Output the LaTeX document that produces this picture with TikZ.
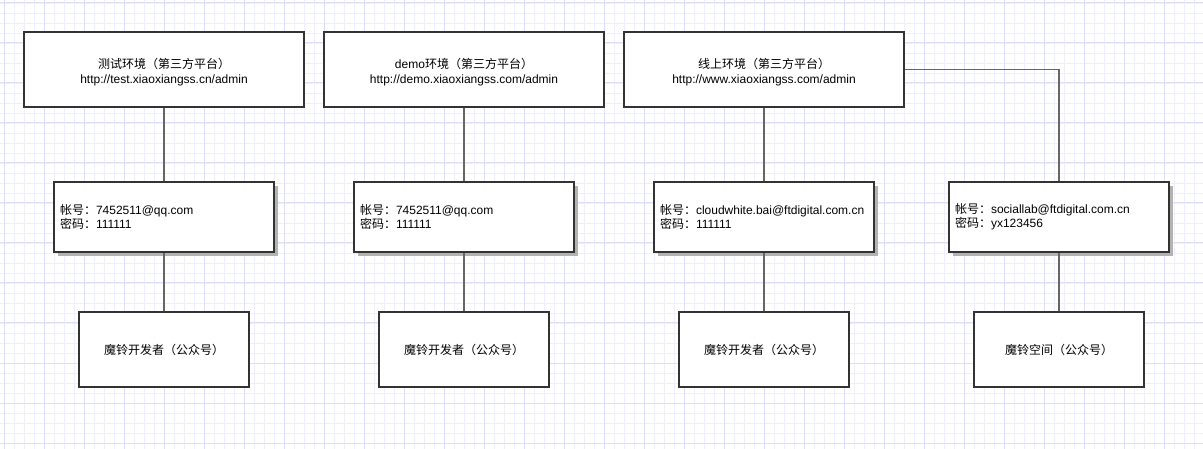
\documentclass[tikz,border=0pt]{standalone}
\usepackage{fontspec}
\setmainfont{Liberation Sans}
\newfontfamily\cjk{Noto Sans CJK SC}
\newcommand\zh[1]{{\cjk #1}}
\newcommand\topstrut{\rule{0pt}{14.5pt}}
\usetikzlibrary{shadows}
\definecolor{edgec}{HTML}{333333}
\definecolor{connc}{HTML}{666666}
\definecolor{shadc}{HTML}{B3B3B3}
\definecolor{gridminor}{RGB}{238,238,252}
\definecolor{gridmajor}{RGB}{222,222,246}
\begin{document}
\begin{tikzpicture}[x=1pt,y=-1pt,
  every node/.style={font=\fontsize{12}{15}\selectfont, text=black},
  envbox/.style={draw=edgec, line width=1.6pt, fill=white, minimum width=280pt, minimum height=75pt, align=center, inner sep=0pt},
  acctbox/.style={draw=edgec, line width=2pt, fill=white, minimum width=220pt, minimum height=70pt, text width=208pt, inner xsep=6pt, inner ysep=0pt, align=left,
    font=\fontsize{12}{14}\selectfont,
    drop shadow={shadow xshift=4pt, shadow yshift=-4pt, fill=shadc, opacity=1}},
  appbox/.style={draw=edgec, line width=1.4pt, fill=white, minimum width=170pt, minimum height=75pt, align=center, inner sep=0pt},
  conn/.style={draw=connc, line width=1.3pt}]
\useasboundingbox (0,0) rectangle (1203,449);
\fill[white] (0,0) rectangle (1203,449);
% grid
\foreach \i in {0,...,120} \draw[gridminor, line width=0.8pt] ({4+10*\i},0) -- ({4+10*\i},449);
\foreach \j in {0,...,44} \draw[gridminor, line width=0.8pt] (0,{3+10*\j}) -- (1203,{3+10*\j});
\foreach \i in {0,...,30} \draw[gridmajor, line width=1pt] ({4+40*\i},0) -- ({4+40*\i},449);
\foreach \j in {0,...,11} \draw[gridmajor, line width=1pt] (0,{3+40*\j}) -- (1203,{3+40*\j});

% top boxes
\node[envbox] (t1) at (164,69.5) {\topstrut\zh{测试环境（第三方平台）}\\http://test.xiaoxiangss.cn/admin};
\node[envbox] (t2) at (464,69.5) {\topstrut demo\zh{环境（第三方平台）}\\http://demo.xiaoxiangss.com/admin};
\node[envbox] (t3) at (764,69.5) {\topstrut\zh{线上环境（第三方平台）}\\http://www.xiaoxiangss.com/admin};

% account boxes
\node[acctbox] (m1) at (164,217) {\zh{帐号：}7452511@qq.com\\\zh{密码：}111111};
\node[acctbox] (m2) at (464,217) {\zh{帐号：}7452511@qq.com\\\zh{密码：}111111};
\node[acctbox] (m3) at (764,217) {\zh{帐号：}cloudwhite.bai@ftdigital.com.cn\\\zh{密码：}111111};
\node[acctbox] (m4) at (1059,217) {\zh{帐号：}sociallab@ftdigital.com.cn\\\zh{密码：}yx123456};

% app boxes
\node[appbox] (b1) at (164,349.5) {\zh{魔铃开发者（公众号）}};
\node[appbox] (b2) at (464,349.5) {\zh{魔铃开发者（公众号）}};
\node[appbox] (b3) at (764,349.5) {\zh{魔铃开发者（公众号）}};
\node[appbox] (b4) at (1059,349.5) {\zh{魔铃空间（公众号）}};

% connectors
\draw[conn] (t1) -- (m1);
\draw[conn] (t2) -- (m2);
\draw[conn] (t3) -- (m3);
\draw[conn] (t3.east) -| (m4.north);
\draw[conn] (m1) -- (b1);
\draw[conn] (m2) -- (b2);
\draw[conn] (m3) -- (b3);
\draw[conn] (m4) -- (b4);
\end{tikzpicture}
\end{document}
